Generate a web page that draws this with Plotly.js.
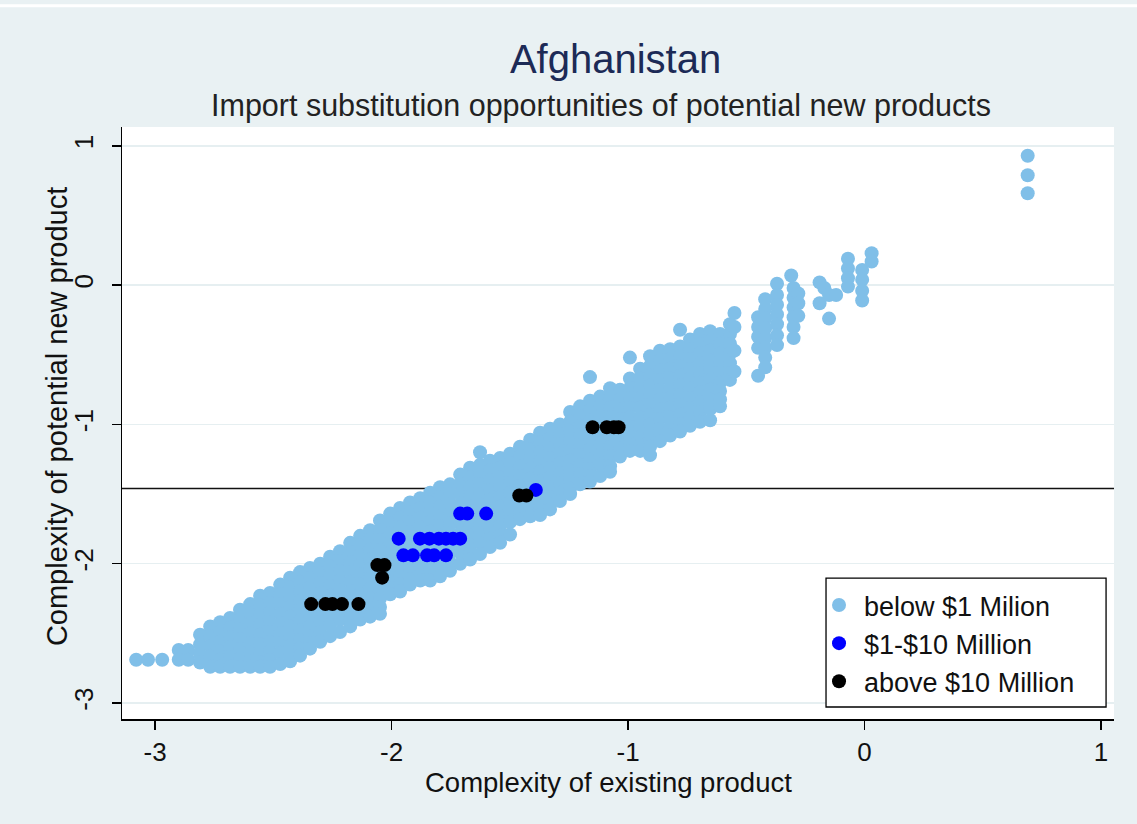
<!DOCTYPE html>
<html>
<head>
<meta charset="utf-8">
<script src="https://cdn.plot.ly/plotly-3.0.1.min.js"></script>
<style>html,body{margin:0;padding:0;background:#e9f1f3;}#chart{width:1137px;height:824px;}</style>
</head>
<body>
<div id="chart"></div>
<script>
// ---- Data ----
// Light-blue cloud ("below $1 Milion"), written column by column: one x value, its y values
const belowColX = [-3.08,-3.03,-2.97,-2.90,-2.86,
  -2.810,-2.767,-2.725,-2.683,-2.641,-2.598,-2.556,-2.514,-2.471,-2.429,-2.387,-2.345,-2.302,-2.260,-2.218,-2.175,-2.133,-2.091,-2.049,-2.006,
  -1.964,-1.922,-1.879,-1.837,-1.795,-1.753,-1.710,-1.668,-1.626,-1.584,-1.541,-1.499,-1.457,-1.414,-1.372,-1.330,-1.288,-1.245,-1.203,-1.161,
  -1.118,-1.076,-1.034,-0.992,-0.949,-0.907,-0.865,-0.822,-0.780,-0.738,-0.696,-0.653,-0.611,-0.569,
  -0.55,-0.45,-0.42,-0.37,-0.31,-0.30,-0.28,-0.19,-0.17,-0.15,-0.12,-0.07,-0.01,0.03,0.69];
const belowColY = [
  [-2.69],[-2.69],[-2.69],[-2.62,-2.69],[-2.62,-2.69],
  [-2.51,-2.58,-2.65,-2.71],
  [-2.45,-2.52,-2.59,-2.66,-2.74],
  [-2.42,-2.49,-2.56,-2.63,-2.69,-2.74],
  [-2.39,-2.46,-2.53,-2.60,-2.67,-2.74],
  [-2.33,-2.40,-2.47,-2.54,-2.61,-2.68,-2.74],
  [-2.29,-2.36,-2.43,-2.50,-2.57,-2.64,-2.70,-2.74],
  [-2.23,-2.30,-2.37,-2.44,-2.51,-2.58,-2.65,-2.71,-2.74],
  [-2.21,-2.28,-2.35,-2.42,-2.49,-2.56,-2.63,-2.69,-2.74],
  [-2.15,-2.22,-2.29,-2.36,-2.43,-2.50,-2.57,-2.64,-2.72],
  [-2.10,-2.17,-2.24,-2.31,-2.38,-2.45,-2.52,-2.59,-2.65,-2.70],
  [-2.06,-2.13,-2.20,-2.27,-2.34,-2.41,-2.48,-2.55,-2.61,-2.66],
  [-2.03,-2.10,-2.17,-2.24,-2.31,-2.38,-2.45,-2.52,-2.57,-2.61],
  [-2.00,-2.07,-2.14,-2.21,-2.28,-2.35,-2.42,-2.49,-2.56],
  [-1.95,-2.02,-2.09,-2.16,-2.23,-2.30,-2.37,-2.44,-2.52],
  [-1.91,-1.98,-2.05,-2.12,-2.19,-2.26,-2.33,-2.40,-2.49],
  [-1.85,-1.92,-1.99,-2.06,-2.13,-2.20,-2.27,-2.34,-2.40,-2.45],
  [-1.80,-1.87,-1.94,-2.01,-2.08,-2.15,-2.22,-2.29,-2.35,-2.40],
  [-1.76,-1.83,-1.90,-1.97,-2.04,-2.11,-2.18,-2.25,-2.32,-2.38],
  [-1.69,-1.76,-1.83,-1.90,-1.97,-2.04,-2.11,-2.18,-2.25,-2.31,-2.36],
  [-1.64,-1.71,-1.78,-1.85,-1.92,-1.99,-2.06,-2.13,-2.18,-2.22],
  [-1.60,-1.67,-1.74,-1.81,-1.88,-1.95,-2.02,-2.09,-2.15,-2.20],
  [-1.56,-1.63,-1.70,-1.77,-1.84,-1.91,-1.98,-2.05,-2.11,-2.15],
  [-1.53,-1.60,-1.67,-1.74,-1.81,-1.88,-1.95,-2.02,-2.08,-2.12],
  [-1.49,-1.56,-1.63,-1.70,-1.77,-1.84,-1.91,-1.98,-2.05,-2.12],
  [-1.45,-1.52,-1.59,-1.66,-1.73,-1.80,-1.87,-1.94,-2.01,-2.09],
  [-1.43,-1.50,-1.57,-1.64,-1.71,-1.78,-1.85,-1.92,-1.99,-2.05],
  [-1.36,-1.43,-1.50,-1.57,-1.64,-1.71,-1.78,-1.85,-1.92,-2.00],
  [-1.31,-1.38,-1.45,-1.52,-1.59,-1.66,-1.73,-1.80,-1.87,-1.93,-1.97],
  [-1.20,-1.29,-1.36,-1.43,-1.50,-1.57,-1.64,-1.71,-1.78,-1.85,-1.93],
  [-1.26,-1.33,-1.40,-1.47,-1.54,-1.61,-1.68,-1.75,-1.82,-1.88],
  [-1.24,-1.31,-1.38,-1.45,-1.52,-1.59,-1.66,-1.73,-1.80,-1.85],
  [-1.21,-1.28,-1.35,-1.42,-1.49,-1.56,-1.63,-1.70,-1.79],
  [-1.16,-1.23,-1.30,-1.37,-1.44,-1.51,-1.58,-1.63,-1.68],
  [-1.11,-1.18,-1.25,-1.32,-1.39,-1.46,-1.53,-1.60,-1.66],
  [-1.06,-1.13,-1.20,-1.27,-1.34,-1.41,-1.48,-1.55,-1.60,-1.65],
  [-1.03,-1.10,-1.17,-1.24,-1.31,-1.38,-1.45,-1.52,-1.57,-1.61],
  [-1.00,-1.07,-1.14,-1.21,-1.28,-1.35,-1.42,-1.49,-1.55],
  [-0.91,-0.98,-1.05,-1.12,-1.19,-1.26,-1.33,-1.40,-1.46,-1.50],
  [-0.87,-0.94,-1.01,-1.08,-1.15,-1.22,-1.29,-1.36,-1.43],
  [-0.66,-0.83,-0.90,-0.97,-1.04,-1.11,-1.18,-1.25,-1.32,-1.37,-1.41],
  [-0.80,-0.87,-0.94,-1.01,-1.08,-1.15,-1.22,-1.29,-1.37],
  [-0.74,-0.81,-0.88,-0.95,-1.02,-1.09,-1.16,-1.23,-1.30,-1.34],
  [-0.75,-0.82,-0.89,-0.96,-1.03,-1.10,-1.17,-1.23],
  [-0.52,-0.67,-0.74,-0.81,-0.88,-0.95,-1.02,-1.09,-1.15,-1.19],
  [-0.60,-0.67,-0.74,-0.81,-0.88,-0.95,-1.02,-1.09,-1.15,-1.19],
  [-0.51,-0.58,-0.65,-0.72,-0.79,-0.86,-0.93,-1.00,-1.07,-1.12,-1.16,-1.22],
  [-0.47,-0.54,-0.61,-0.68,-0.75,-0.82,-0.89,-0.96,-1.03,-1.08,-1.12],
  [-0.46,-0.53,-0.60,-0.67,-0.74,-0.81,-0.88,-0.95,-1.02,-1.08],
  [-0.32,-0.44,-0.51,-0.58,-0.65,-0.72,-0.79,-0.86,-0.93,-1.00,-1.05],
  [-0.39,-0.46,-0.53,-0.60,-0.67,-0.74,-0.81,-0.88,-0.95,-1.01],
  [-0.35,-0.42,-0.49,-0.56,-0.63,-0.70,-0.77,-0.84,-0.91,-0.98],
  [-0.33,-0.40,-0.47,-0.54,-0.61,-0.68,-0.75,-0.82,-0.89,-0.97],
  [-0.35,-0.42,-0.49,-0.56,-0.63,-0.70,-0.76,-0.82,-0.87],
  [-0.28,-0.35,-0.42,-0.49,-0.56,-0.63,-0.68],
  [-0.20,-0.30,-0.47,-0.62],
  [-0.23,-0.30,-0.37,-0.45,-0.65],
  [-0.10,-0.17,-0.24,-0.31,-0.38,-0.45,-0.52,-0.59],
  [0.01,-0.07,-0.14,-0.21,-0.28,-0.36,-0.43],
  [0.07],
  [-0.02,-0.09,-0.16,-0.23,-0.30,-0.38],
  [-0.06,-0.13,-0.22],
  [0.02,-0.13],
  [-0.02],
  [-0.07,-0.24],
  [-0.07],
  [0.19,0.12,0.05,-0.01],
  [0.11,0.04,-0.04,-0.11],
  [0.23,0.17],
  [0.93,0.79,0.66]
];
// Blue ("$1-$10 Million")
const midX = [-1.71,-1.68,-1.60,-1.39,-1.97,-1.88,-1.84,-1.80,-1.77,-1.74,-1.71,-1.95,-1.91,-1.85,-1.82,-1.77];
const midY = [-1.64,-1.64,-1.64,-1.47,-1.82,-1.82,-1.82,-1.82,-1.82,-1.82,-1.82,-1.94,-1.94,-1.94,-1.94,-1.94];
// Black ("above $10 Million")
const topX = [-2.34,-2.28,-2.25,-2.21,-2.14,-2.06,-2.03,-2.04,-1.46,-1.43,-1.15,-1.09,-1.06,-1.04];
const topY = [-2.29,-2.29,-2.29,-2.29,-2.29,-2.01,-2.01,-2.10,-1.51,-1.51,-1.02,-1.02,-1.02,-1.02];
const seriesNames = ['below $1 Milion', '$1-$10 Million', 'above $10 Million'];
const thresholdY = -1.46;
const tickVals = [-3, -2, -1, 0, 1];
const tickText = ['-3', '-2', '-1', '0', '1'];
const titleText = 'Afghanistan';
const subtitleText = 'Import substitution opportunities of potential new products';
const xTitle = 'Complexity of existing product';
const yTitle = 'Complexity of potential new product';

// ---- Build traces ----
const belowX = [], belowY = [];
belowColX.forEach((x, i) => belowColY[i].forEach(y => { belowX.push(x); belowY.push(y); }));

const mk = (color) => ({size: 14, color: color, symbol: 'circle', line: {width: 0}});
const traces = [
  {x: belowX, y: belowY, type: 'scatter', mode: 'markers', name: seriesNames[0], marker: mk('#80bfe8')},
  {x: midX, y: midY, type: 'scatter', mode: 'markers', name: seriesNames[1], marker: mk('#0000ff')},
  {x: topX, y: topY, type: 'scatter', mode: 'markers', name: seriesNames[2], marker: mk('#000000')}
];

const FONT = 'Liberation Sans, Arial, sans-serif';
const layout = {
  width: 1137, height: 824,
  margin: {l: 122, r: 23, t: 127, b: 105, pad: 0},
  paper_bgcolor: '#e9f1f3', plot_bgcolor: '#ffffff',
  font: {family: FONT, color: '#111', size: 26},
  showlegend: true,
  title: {text: titleText, font: {family: FONT, size: 40, color: '#1c2a56'}, x: 0.4975, xanchor: 'center', xref: 'paper', y: 0.929, yref: 'container', yanchor: 'middle'},
  xaxis: {
    range: [-3.14, 1.055], tickvals: tickVals, ticktext: tickText, ticks: 'outside', ticklen: 9, tickwidth: 1.5, tickcolor: '#000',
    showline: true, linecolor: '#000', linewidth: 1.5, showgrid: false, zeroline: false,
    tickfont: {size: 26, color: '#111'}
  },
  yaxis: {
    range: [-3.115, 1.136], tickvals: tickVals, ticktext: tickText, ticks: 'outside', ticklen: 9, tickwidth: 1.5, tickcolor: '#000',
    tickangle: -90, ticklabelstandoff: 8, showline: true, linecolor: '#000', linewidth: 1.5,
    showgrid: true, gridcolor: '#e6eff1', gridwidth: 1.5, zeroline: false,
    tickfont: {size: 26, color: '#111'}
  },
  legend: {
    x: 0.6976, xanchor: 'left', y: 0.022, yanchor: 'bottom',
    bgcolor: 'rgba(0,0,0,0)', borderwidth: 0,
    font: {size: 27, color: '#111'}, traceorder: 'normal', itemsizing: 'trace',
    itemwidth: 40
  },
  shapes: [
    {type: 'line', xref: 'paper', x0: 0, x1: 1, yref: 'y', y0: thresholdY, y1: thresholdY, line: {color: '#111', width: 1.5}, layer: 'below'},
    {type: 'line', xref: 'paper', x0: -0.125, x1: 1.025, yref: 'paper', y0: 1.205, y1: 1.205, line: {color: '#ffffff', width: 3}},
    {type: 'rect', xref: 'paper', yref: 'paper', x0: 0.7097, x1: 0.992, y0: 0.0203, y1: 0.238, fillcolor: '#ffffff', line: {color: '#000', width: 1.3}, layer: 'above'}
  ],
  annotations: [
    {text: subtitleText, xref: 'paper', x: 0.483, yref: 'paper', y: 1.037, yanchor: 'middle', showarrow: false, font: {size: 30.5, color: '#222'}},
    {text: xTitle, xref: 'paper', x: 0.49, yref: 'paper', y: -0.108, yanchor: 'middle', showarrow: false, font: {size: 27.5, color: '#111'}},
    {text: yTitle, xref: 'paper', x: -0.0655, xanchor: 'center', yref: 'paper', y: 0.51, yanchor: 'middle', textangle: -90, showarrow: false, font: {size: 29, color: '#111'}}
  ]
};

Plotly.newPlot('chart', traces, layout, {staticPlot: true, displayModeBar: false});
</script>
</body>
</html>
